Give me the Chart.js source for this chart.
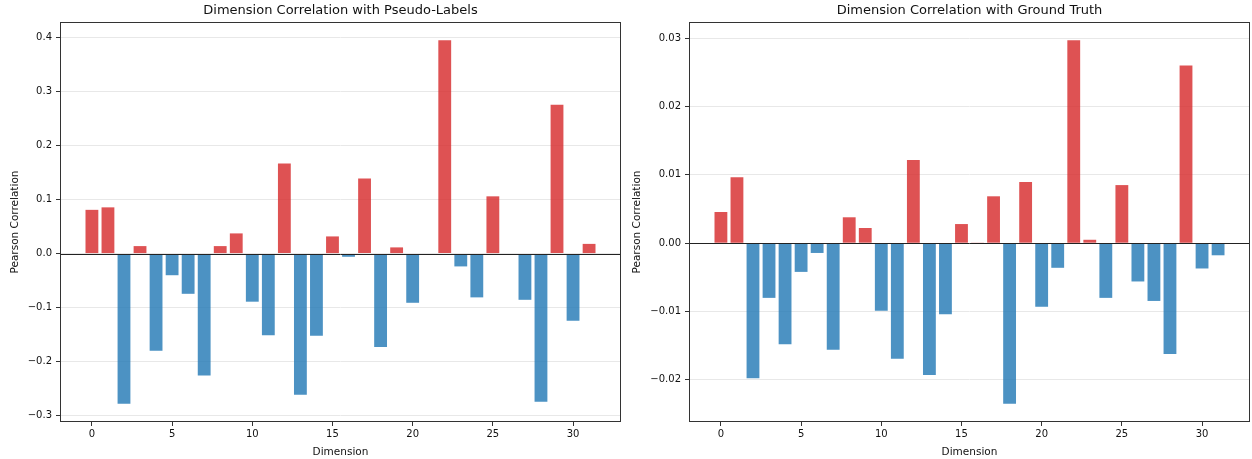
<!DOCTYPE html>
<html>
<head>
<meta charset="utf-8">
<script src="https://cdn.jsdelivr.net/npm/chart.js@4.4.1/dist/chart.umd.min.js"></script>
<style>
  html, body { margin: 0; padding: 0; background: #fff; }
  #wrap { position: relative; width: 1252px; height: 459px; }
  canvas { position: absolute; top: 0; }
</style>
</head>
<body>
<div id="wrap">
  <canvas id="c1" width="626" height="459" style="left:0px"></canvas>
  <canvas id="c2" width="626" height="459" style="left:626px"></canvas>
</div>
<script>
// ---- data ----
const dimensions = [0,1,2,3,4,5,6,7,8,9,10,11,12,13,14,15,16,17,18,19,20,21,22,23,24,25,26,27,28,29,30,31];
const pseudoCorr = [0.081, 0.0856, -0.278, 0.0139, -0.180, -0.040, -0.0744, -0.2256, 0.0139, 0.0374,
  -0.089, -0.151, 0.167, -0.261, -0.152, 0.0318, -0.0059, 0.139, -0.173, 0.0115,
  -0.091, -0.002, 0.395, -0.0237, -0.081, 0.106, -0.002, -0.0855, -0.2744, 0.2756,
  -0.1244, 0.018];
const truthCorr = [0.00456, 0.00963, -0.01975, -0.0080, -0.01478, -0.0042, -0.00143, -0.0156, 0.00379, 0.00222,
  -0.0099, -0.0169, 0.01216, -0.0193, -0.0104, 0.0028, 0.00005, 0.00686, -0.0235, 0.00895,
  -0.0093, -0.0036, 0.0297, 0.0005, -0.0080, 0.0085, -0.0056, -0.00845, -0.0162, 0.0260,
  -0.0037, -0.00177];
const xTicks = [0, 5, 10, 15, 20, 25, 30];
const pseudoYTicks = [-0.3, -0.2, -0.1, 0.0, 0.1, 0.2, 0.3, 0.4];
const truthYTicks = [-0.02, -0.01, 0.0, 0.01, 0.02, 0.03];
const titles = ['Dimension Correlation with Pseudo-Labels', 'Dimension Correlation with Ground Truth'];

const POS = 'rgba(214,39,40,0.8)';
const NEG = 'rgba(31,119,180,0.8)';
const FONT = '"DejaVu Sans", sans-serif';

function fmt(v, d) { return v.toFixed(d).replace('-', '\u2212'); }

const deco = {
  id: 'deco',
  afterDatasetsDraw(chart, args, opts) {
    const { ctx, chartArea: a, scales: { y } } = chart;
    ctx.save();
    const y0 = Math.round(y.getPixelForValue(0)) + 0.5;
    ctx.strokeStyle = '#222';
    ctx.lineWidth = 1;
    ctx.beginPath();
    ctx.moveTo(a.left, y0);
    ctx.lineTo(a.right, y0);
    ctx.stroke();
    ctx.strokeStyle = '#333';
    ctx.strokeRect(Math.round(a.left) + 0.5, Math.round(a.top) + 0.5,
      Math.round(a.right - a.left) - 1, Math.round(a.bottom - a.top) - 1);
    ctx.fillStyle = '#111';
    ctx.font = '13px ' + FONT;
    ctx.textAlign = 'center';
    ctx.textBaseline = 'middle';
    ctx.fillText(opts.text, (a.left + a.right) / 2, 11);
    ctx.restore();
  }
};

function makeChart(id, values, yTicks, dec, title, yWidth, padRight, yTitlePad) {
  const lo = Math.min(...values), hi = Math.max(...values);
  const rng = hi - lo;
  const xlo = dimensions[0] - 0.4, xhi = dimensions[dimensions.length - 1] + 0.4;
  const xr = xhi - xlo;
  new Chart(document.getElementById(id), {
    type: 'bar',
    data: {
      datasets: [{
        data: dimensions.map((d, i) => ({ x: d, y: values[i] })),
        backgroundColor: values.map(v => v >= 0 ? POS : NEG),
        borderWidth: 0,
        barPercentage: 0.8,
        categoryPercentage: 1.0
      }]
    },
    options: {
      responsive: false,
      animation: false,
      layout: { padding: { top: 22, right: padRight, bottom: 0, left: 0 } },
      plugins: { legend: { display: false }, tooltip: { enabled: false }, deco: { text: title } },
      scales: {
        x: {
          type: 'linear',
          offset: false,
          min: xlo - 0.05 * xr,
          max: xhi + 0.05 * xr,
          afterBuildTicks: s => { s.ticks = xTicks.map(v => ({ value: v })); },
          afterFit: s => { s.height = 37; },
          grid: { offset: false, drawOnChartArea: false, drawTicks: true, tickLength: 4, tickColor: '#333' },
          border: { display: false },
          ticks: { font: { family: FONT, size: 10 }, color: '#111', padding: 2, maxRotation: 0,
            callback: v => String(v) },
          title: { display: true, text: 'Dimension', font: { family: FONT, size: 10.5 }, color: '#111',
            padding: { top: 3, bottom: 0 } }
        },
        y: {
          min: lo - 0.05 * rng,
          max: hi + 0.05 * rng,
          afterBuildTicks: s => { s.ticks = yTicks.map(v => ({ value: v })); },
          afterFit: s => { s.width = yWidth; },
          grid: { color: '#e8e8e8', lineWidth: 1, drawTicks: true, tickLength: 4, tickColor: '#333' },
          border: { display: false },
          ticks: { font: { family: FONT, size: 10 }, color: '#111', padding: 4,
            callback: v => fmt(v, dec) },
          title: { display: true, text: 'Pearson Correlation', font: { family: FONT, size: 10.5 }, color: '#111',
            padding: { top: yTitlePad, bottom: 0 } }
        }
      }
    },
    plugins: [deco]
  });
}

makeChart('c1', pseudoCorr, pseudoYTicks, 1, titles[0], 60, 5, 9);
makeChart('c2', truthCorr, truthYTicks, 2, titles[1], 63, 2, 5);
</script>
</body>
</html>
